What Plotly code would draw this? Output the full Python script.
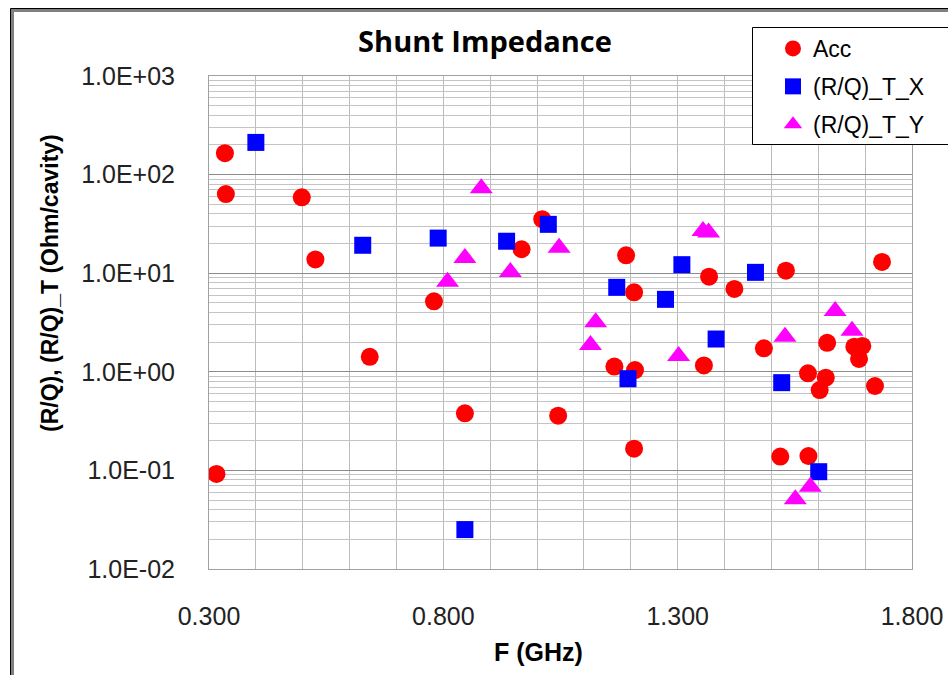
import plotly.graph_objects as go

# ---------------- data ----------------
acc_f = [0.316, 0.334, 0.336, 0.498, 0.527, 0.643, 0.780, 0.846, 0.967, 1.011,
         1.045, 1.165, 1.190, 1.207, 1.209, 1.207, 1.356, 1.367, 1.421, 1.484,
         1.519, 1.531, 1.578, 1.579, 1.603, 1.616, 1.619, 1.677, 1.687, 1.694,
         1.721, 1.736]
acc_v = [0.092, 165, 63.5, 58.9, 13.8, 1.42, 5.19, 0.379, 17.5, 35.3,
         0.359, 1.13, 15.2, 6.40, 1.04, 0.166, 1.16, 9.23, 6.92, 1.73,
         0.138, 10.6, 0.966, 0.140, 0.653, 0.871, 1.97, 1.80, 1.35, 1.83,
         0.718, 13.0]

tx_f = [0.400, 0.628, 0.789, 0.846, 0.935, 1.024, 1.170, 1.194, 1.274, 1.309,
        1.382, 1.466, 1.522, 1.601]
tx_v = [212, 19.2, 22.7, 0.0251, 21.1, 31.3, 7.19, 0.851, 5.43, 12.2,
        2.15, 10.2, 0.776, 0.097]

ty_f = [0.809, 0.846, 0.881, 0.943, 1.047, 1.114, 1.125, 1.302, 1.354, 1.366,
        1.529, 1.551, 1.583, 1.636, 1.672]
ty_v = [8.21, 14.3, 72.6, 10.3, 18.1, 1.87, 3.18, 1.45, 26.8, 25.8,
        2.27, 0.0509, 0.0684, 4.14, 2.61]

series_names = ["Acc", "(R/Q)_T_X", "(R/Q)_T_Y"]
y_tick_vals = [0.01, 0.1, 1, 10, 100, 1000]
y_tick_text = ["1.0E-02", "1.0E-01", "1.0E+00", "1.0E+01", "1.0E+02", "1.0E+03"]
title_text = "Shunt Impedance"
x_title = "F (GHz)"
y_title = "(R/Q), (R/Q)_T (Ohm/cavity)"

# ---------------- geometry ----------------
W, H = 948, 675
L, R, T, B = 209, 912, 76, 569


def px_x(p):
    return (p - L) / (R - L)


def px_y(p):
    return (B - p) / (B - T)


FONT = "Liberation Sans, Arial, sans-serif"

fig = go.Figure()
fig.add_trace(go.Scatter(x=acc_f, y=acc_v, mode="markers", name=series_names[0],
                         legendgroup="a",
                         marker=dict(symbol="circle", size=18, color="#ff0000",
                                     line=dict(width=0))))
fig.add_trace(go.Scatter(x=tx_f, y=tx_v, mode="markers", name=series_names[1],
                         legendgroup="b",
                         marker=dict(symbol="square", size=17, color="#0000ff",
                                     line=dict(width=0))))
fig.add_trace(go.Scatter(x=ty_f, y=ty_v, mode="markers", name=series_names[2],
                         legendgroup="c",
                         marker=dict(symbol="triangle-up", size=20, color="#ff00ff",
                                     line=dict(width=0))))

fig.update_layout(
    width=W, height=H,
    margin=dict(l=L, r=W - R, t=T, b=H - B, pad=0, autoexpand=False),
    paper_bgcolor="white", plot_bgcolor="white",
    font=dict(family=FONT, size=25, color="#222222"),
    title=dict(text=title_text, x=485 / W, xanchor="center", xref="container",
               y=1 - 42 / H, yanchor="middle",
               font=dict(family="Open Sans, sans-serif", size=29, color="black", weight="bold")),
    showlegend=True,
    legend=dict(x=px_x(773), y=px_y(27), xanchor="left", yanchor="top",
                bgcolor="rgba(0,0,0,0)", borderwidth=0,
                font=dict(family=FONT, size=23, color="black"),
                tracegroupgap=5, itemsizing="trace"),
)

fig.update_xaxes(
    range=[0.3, 1.8], tick0=0.3, dtick=0.5, tickformat=".3f",
    showgrid=True, gridcolor="#bdbdbd", gridwidth=1,
    minor=dict(dtick=0.1, tick0=0.3, showgrid=True, gridcolor="#bdbdbd", gridwidth=1),
    ticks="", ticklabelstandoff=25,
    showline=True, mirror=True, linecolor="#a0a0a0", linewidth=1,
    zeroline=False, tickfont=dict(size=25, color="#222222"),
)
fig.update_yaxes(
    type="log", range=[-2, 3], tickmode="array",
    tickvals=y_tick_vals, ticktext=y_tick_text,
    showgrid=True, gridcolor="#8c8c8c", gridwidth=1,
    minor=dict(dtick="D1", showgrid=True, gridcolor="#c4c4c4", gridwidth=1),
    ticks="", ticklabelstandoff=28,
    showline=True, mirror=True, linecolor="#a0a0a0", linewidth=1,
    zeroline=False, tickfont=dict(size=25, color="#222222"),
)

# axis titles
fig.add_annotation(text=y_title, textangle=-90, xref="paper", yref="paper",
                   x=px_x(50), y=px_y(283), xanchor="center", yanchor="middle",
                   showarrow=False,
                   font=dict(family=FONT, size=23, color="black", weight="bold"))
fig.add_annotation(text=x_title, xref="paper", yref="paper",
                   x=px_x(538), y=px_y(652), xanchor="center", yanchor="middle",
                   showarrow=False,
                   font=dict(family=FONT, size=25, color="black", weight="bold"))

# outer chart frame (black line with gray inner shadow)
fig.add_shape(type="rect", xref="paper", yref="paper", layer="above",
              x0=px_x(12.5), y0=px_y(720), x1=px_x(1000), y1=px_y(10.5),
              line=dict(color="#808080", width=3), fillcolor="rgba(0,0,0,0)")
fig.add_shape(type="rect", xref="paper", yref="paper", layer="above",
              x0=px_x(10.5), y0=px_y(720), x1=px_x(1000), y1=px_y(8.5),
              line=dict(color="black", width=1), fillcolor="rgba(0,0,0,0)")
# legend box
fig.add_shape(type="rect", xref="paper", yref="paper", layer="above",
              x0=px_x(752.5), y0=px_y(144.5), x1=px_x(1000), y1=px_y(27.5),
              line=dict(color="black", width=1), fillcolor="white")

fig.write_html("out.html")
